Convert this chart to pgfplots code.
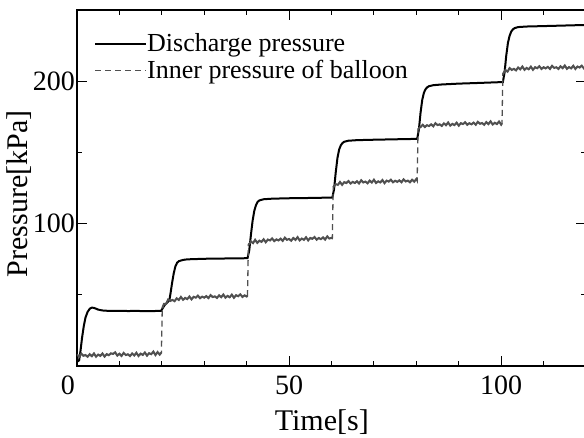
\documentclass[border=0pt]{standalone}
\usepackage{fontspec}
\setmainfont{Liberation Serif}
\usepackage{pgfplots}
\usepackage{pgfplotstable}
\pgfplotsset{compat=1.18}
\definecolor{innergray}{RGB}{80,80,80}

\pgfplotstableread{
t p
0 3
0.5 4
0.8 10
1.2 20
1.6 28
2.0 34
2.5 38
3.0 40.2
3.5 41.0
4.0 40.8
4.5 40.2
5.0 39.6
6.0 39.0
7.0 38.8
8 38.7
10 38.8
12 38.6
14 38.7
16 38.5
18 38.6
19.8 38.7
20.2 40.5
20.6 42.5
21.0 43.8
21.5 45.2
21.8 46.5
22.1 52
22.4 58
22.8 65
23.2 70
23.6 72.5
24.0 73.6
25.0 74.5
26 74.9
28 75.1
30 75.3
35 75.5
40.2 75.7
40.6 81
41.0 92
41.4 102
41.8 109
42.2 113
42.6 115.3
43.0 116.3
44 117.1
46 117.5
50 117.8
55 118.0
60.2 118.3
60.6 124
61.0 136
61.4 146
61.8 152
62.2 155
62.6 156.6
63.0 157.5
64 158.2
66 158.6
70 158.9
75 159.2
80.2 159.5
80.6 166
81.0 178
81.4 187
81.8 192
82.2 194.5
82.6 195.8
83.0 196.5
84 197.2
86 197.7
90 198.3
95 198.8
100.4 199.4
100.8 206
101.2 218
101.6 227
102.0 232
102.4 235
102.8 236.5
103.2 237.3
104 238
106 238.4
110 238.7
115 239.1
120 239.5
}\dischargetab

\pgfplotstableread{
t p
0 8.1
0.5 6.6
1.0 8.7
1.5 7.2
2.0 7.7
2.5 6.5
3.0 8.3
3.5 6.9
4.0 8.8
4.5 6.5
5.0 8.0
5.5 7.1
6.0 8.8
6.5 6.6
7.0 8.3
7.5 7.6
8.0 8.9
8.5 8.5
9.0 9.6
9.5 7.3
10.0 8.6
10.5 7.1
11.0 9.2
11.5 7.7
12.0 8.2
12.5 7.0
13.0 8.8
13.5 7.4
14.0 9.3
14.5 7.0
15.0 8.7
15.5 7.8
16.0 9.5
16.5 7.3
17.0 9.0
17.5 8.3
18.0 10.1
18.5 7.7
19.0 9.8
19.5 8.0
19.9 9.5
20.1 40.5
20.5 43.6
21.0 43.6
21.5 46.7
22.0 45.7
22.5 46.4
23.0 45.5
23.5 47.5
24.0 46.4
24.5 48.5
25.0 46.5
25.5 47.8
26.0 47.0
26.5 48.8
27.0 46.8
27.5 48.6
28.0 48.0
28.5 49.4
29.0 47.6
29.5 48.7
30.0 48.0
30.5 49.1
31.0 47.7
31.5 49.8
32.0 48.4
32.5 48.9
33.0 47.8
33.5 49.6
34.0 48.3
34.5 50.2
35.0 48.0
35.5 49.2
36.0 48.3
36.5 50.1
37.0 47.9
37.5 49.7
38.0 49.0
38.5 50.3
39.0 48.5
39.5 49.6
40.0 48.8
40.2 49.5
40.4 85.0
40.8 86.5
41.0 87.4
41.5 86.3
42.0 88.6
42.5 86.5
43.0 88.0
43.5 87.2
44.0 89.0
44.5 86.9
45.0 88.8
45.5 88.2
46.0 89.6
46.5 87.7
47.0 88.9
47.5 88.2
48.0 89.4
48.5 87.9
49.0 90.1
49.5 88.6
50.0 89.2
50.5 88.0
51.0 89.9
51.5 88.5
52.0 90.5
52.5 88.2
53.0 89.5
53.5 88.6
54.0 90.4
54.5 88.2
55.0 89.9
55.5 89.3
56.0 90.6
56.5 88.7
57.0 89.9
57.5 89.1
58.0 90.3
58.5 88.8
59.0 91.0
59.5 89.5
60.0 90.0
60.2 89.6
60.4 125.5
60.8 127.0
61.0 127.7
61.5 127.2
62.0 129.2
62.5 127.2
63.0 129.1
63.5 128.5
64.0 129.9
64.5 128.1
65.0 129.3
65.5 128.5
66.0 129.7
66.5 128.2
67.0 130.4
67.5 128.9
68.0 129.5
68.5 128.3
69.0 130.2
69.5 128.8
70.0 130.8
70.5 128.5
71.0 129.7
71.5 128.9
72.0 130.6
72.5 128.4
73.0 130.2
73.5 129.5
74.0 130.8
74.5 129.0
75.0 130.1
75.5 129.3
76.0 130.4
76.5 129.0
77.0 131.1
77.5 129.6
78.0 130.2
78.5 129.0
79.0 130.8
79.5 129.4
80.0 131.3
80.2 130.0
80.4 166.0
80.8 167.5
81.0 167.8
81.5 169.4
82.0 167.8
82.5 169.1
83.0 168.5
83.5 169.7
84.0 168.3
84.5 170.5
85.0 169.2
85.5 169.7
86.0 168.6
86.5 170.4
87.0 169.1
87.5 171.0
88.0 168.8
88.5 170.0
89.0 169.2
89.5 170.9
90.0 168.8
90.5 170.5
91.0 169.9
91.5 171.2
92.0 169.4
92.5 170.5
93.0 169.7
93.5 170.9
94.0 169.4
94.5 171.5
95.0 170.1
95.5 170.6
96.0 169.4
96.5 171.3
97.0 169.9
97.5 171.8
98.0 169.6
98.5 170.8
99.0 169.9
99.5 171.7
100.0 169.5
100.2 170.5
100.4 205.0
100.8 206.8
101.0 207.9
101.5 206.7
102.0 209.2
102.5 207.9
103.0 208.7
103.5 207.6
104.0 209.6
104.5 208.3
105.0 210.3
105.5 208.0
106.0 209.3
106.5 208.4
107.0 210.2
107.5 208.0
108.0 209.8
108.5 209.1
109.0 210.5
109.5 208.6
110.0 209.8
110.5 209.0
111.0 210.1
111.5 208.6
112.0 210.8
112.5 209.3
113.0 209.8
113.5 208.6
114.0 210.5
114.5 209.1
115.0 211.0
115.5 208.7
116.0 209.9
116.5 209.0
117.0 210.8
117.5 208.6
118.0 210.3
118.5 209.6
119.0 210.9
119.5 209.0
120.0 210.1
}\innertab

\begin{document}
\begin{tikzpicture}
\begin{axis}[
  scale only axis,
  width=509pt, height=356pt,
  xmin=0, xmax=120, ymin=0, ymax=250,
  axis line style={line width=1.2pt},
  tick style={line width=1pt, black},
  tick align=inside,
  major tick length=10pt,
  minor tick length=5pt,
  xtick={0,50,100},
  xticklabels={{\makebox[0pt][r]{0\hspace{2pt}}},50,100},
  minor xtick={10,20,30,40,60,70,80,90,110},
  ytick={100,200},
  yticklabels={100,200},
  minor ytick={50,150},
  tick label style={font=\fontsize{28}{32}\selectfont},
  yticklabel style={inner xsep=2pt},
  xticklabel style={inner ysep=9.5pt},
  xlabel={Time[s]},
  ylabel={Pressure[kPa]},
  label style={font=\fontsize{30}{34}\selectfont},
  xlabel style={at={(axis description cs:0.481,0)}, anchor=base, yshift=-64.7pt},
  ylabel style={at={(axis description cs:-0.0963,0.484)}, anchor=base},
  legend style={draw=none, fill=none, at={(axis description cs:0,1)}, anchor=north west,
    xshift=17pt, yshift=-23.7pt, inner sep=0pt, row sep=2.6pt,
    font=\fontsize{26}{30}\selectfont,
    nodes={inner sep=0pt, text height=18pt, text depth=6pt}},
  legend cell align=left,
  legend image code/.code={\draw[#1] (0pt,2pt) -- (51pt,2pt);},
]
\coordinate (O) at (rel axis cs:0,0);
\addplot[black, line width=2pt] table[x=t,y=p] {\dischargetab};
\addlegendentry{Discharge pressure}
\addplot[innergray, line width=1.3pt, dash pattern=on 6pt off 4pt] table[x=t,y=p] {\innertab};
\addlegendentry{Inner pressure of balloon}
\addplot[innergray, line width=2pt, forget plot, restrict x to domain=0:19.95] table[x=t,y=p] {\innertab};
\addplot[innergray, line width=2pt, forget plot, restrict x to domain=20.05:40.25] table[x=t,y=p] {\innertab};
\addplot[innergray, line width=2pt, forget plot, restrict x to domain=40.35:60.25] table[x=t,y=p] {\innertab};
\addplot[innergray, line width=2pt, forget plot, restrict x to domain=60.35:80.25] table[x=t,y=p] {\innertab};
\addplot[innergray, line width=2pt, forget plot, restrict x to domain=80.35:100.25] table[x=t,y=p] {\innertab};
\addplot[innergray, line width=2pt, forget plot, restrict x to domain=100.35:120] table[x=t,y=p] {\innertab};
\end{axis}
\pgfresetboundingbox
\path ([shift={(-77pt,-71pt)}]O) rectangle ([shift={(507pt,366pt)}]O);
\end{tikzpicture}
\end{document}
